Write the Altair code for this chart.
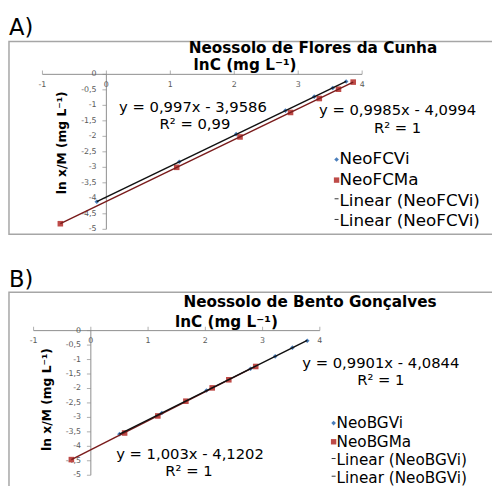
import altair as alt
import pandas as pd

# ---------------- data ----------------
# Panel A: Neossolo de Flores da Cunha
a_vi_x = [-0.15, 1.14, 2.03, 2.80, 3.25, 3.54, 3.75]
a_vi_y = [-4.11, -2.82, -1.93, -1.17, -0.72, -0.44, -0.23]
a_ma_x = [-0.72, 1.10, 2.09, 2.88, 3.33, 3.63, 3.86]
a_ma_y = [-4.82, -3.00, -2.02, -1.23, -0.78, -0.48, -0.25]

# Panel B: Neossolo de Bento Gonçalves
b_vi_x = [0.50, 1.24, 2.02, 2.79, 3.22, 3.52, 3.78]
b_vi_y = [-3.58, -2.85, -2.07, -1.32, -0.89, -0.59, -0.35]
b_ma_x = [-0.34, 0.59, 1.17, 1.66, 2.12, 2.41, 2.88]
b_ma_y = [-4.46, -3.54, -2.95, -2.44, -1.98, -1.70, -1.24]

x_ticks = [-1, 0, 1, 2, 3, 4]
x_tick_labels = ["-1", "0", "1", "2", "3", "4"]
y_ticks = [0, -0.5, -1, -1.5, -2, -2.5, -3, -3.5, -4, -4.5, -5]
y_tick_labels = ["0", "-0,5", "-1", "-1,5", "-2", "-2,5", "-3", "-3,5", "-4", "-4,5", "-5"]

x_domain = [-1, 4]
y_domain = [-5, 0]

BLUE = "#4a7ebb"
RED = "#be4b48"
FONT = "DejaVu Sans"
one = pd.DataFrame({"k": [0]})


def txt(s, x, y, size=15, bold=False, align="center", angle=0, color="black"):
    kw = dict(fontSize=size, font=FONT, align=align, baseline="middle", color=color)
    if bold:
        kw["fontWeight"] = "bold"
    if angle:
        kw["angle"] = angle
    return alt.Chart(one).mark_text(**kw).encode(
        x=alt.value(x), y=alt.value(y), text=alt.value(s))


def panel(vi_x, vi_y, ma_x, ma_y, xr, yr):
    xs = alt.Scale(domain=x_domain, range=xr, nice=False, zero=False)
    ys = alt.Scale(domain=y_domain, range=yr, nice=False, zero=False)

    def X(f):
        return alt.X(f, type="quantitative", scale=xs, axis=None)

    def Y(f):
        return alt.Y(f, type="quantitative", scale=ys, axis=None)

    vi = pd.DataFrame({"x": vi_x, "y": vi_y})
    ma = pd.DataFrame({"x": ma_x, "y": ma_y})
    xt = pd.DataFrame({"x": x_ticks, "lab": x_tick_labels, "y": 0})
    yt = pd.DataFrame({"y": y_ticks, "lab": y_tick_labels, "x": 0})
    axx = pd.DataFrame({"x0": [x_domain[0]], "x1": [x_domain[1]], "y0": [0]})
    axy = pd.DataFrame({"x0": [0], "y0": [y_domain[0]], "y1": [y_domain[1]]})

    layers = [
        alt.Chart(axx).mark_rule(color="#8c8c8c", strokeWidth=1).encode(
            x=X("x0"), x2=alt.X2("x1"), y=Y("y0")),
        alt.Chart(axy).mark_rule(color="#8c8c8c", strokeWidth=1).encode(
            x=X("x0"), y=Y("y0"), y2=alt.Y2("y1")),
        alt.Chart(xt).mark_tick(orient="vertical", size=4, thickness=1,
                                color="#8c8c8c", yOffset=-2).encode(x=X("x"), y=Y("y")),
        alt.Chart(yt).mark_tick(orient="horizontal", size=4, thickness=1,
                                color="#8c8c8c", xOffset=-2).encode(x=X("x"), y=Y("y")),
        alt.Chart(xt).mark_text(fontSize=8, font=FONT, color="#595959", dy=11,
                                baseline="middle").encode(x=X("x"), y=Y("y"), text="lab"),
        alt.Chart(yt).mark_text(fontSize=8, font=FONT, color="#595959", dx=-10,
                                align="right", baseline="middle").encode(
            x=X("x"), y=Y("y"), text="lab"),
        alt.Chart(vi).mark_point(shape="diamond", filled=True, size=22, color=BLUE,
                                 opacity=1).encode(x=X("x"), y=Y("y")),
        alt.Chart(ma).mark_point(shape="square", filled=True, size=32, color=RED,
                                 opacity=1).encode(x=X("x"), y=Y("y")),
        alt.Chart(ma).transform_regression("x", "y").mark_line(
            color="#7a1c1c", strokeWidth=1.5).encode(x=X("x"), y=Y("y")),
        alt.Chart(vi).transform_regression("x", "y").mark_line(
            color="#111111", strokeWidth=1.5).encode(x=X("x"), y=Y("y")),
    ]
    return layers


def legend(x0, rows, labels, size):
    out = [
        alt.Chart(one).mark_point(shape="diamond", filled=True, size=22, color=BLUE,
                                  opacity=1).encode(x=alt.value(x0), y=alt.value(rows[0])),
        alt.Chart(one).mark_point(shape="square", filled=True, size=30, color=RED,
                                  opacity=1).encode(x=alt.value(x0), y=alt.value(rows[1])),
        alt.Chart(one).mark_rule(color="#333333", strokeWidth=1).encode(
            x=alt.value(x0 - 2), x2=alt.value(x0 + 2), y=alt.value(rows[2] - 2)),
        alt.Chart(one).mark_rule(color="#333333", strokeWidth=1).encode(
            x=alt.value(x0 - 2), x2=alt.value(x0 + 2), y=alt.value(rows[3] - 2)),
    ]
    for lab, r in zip(labels, rows):
        out.append(txt(lab, x0 + 3, r, size=size, align="left"))
    return out


frameA = alt.Chart(one).mark_rect(fill="white", stroke="#a6a6a6", strokeWidth=1.5).encode(
    x=alt.value(1), x2=alt.value(530), y=alt.value(30), y2=alt.value(226))
frameB = alt.Chart(one).mark_rect(fill="white", stroke="#a6a6a6", strokeWidth=1.5).encode(
    x=alt.value(1), x2=alt.value(530), y=alt.value(285), y2=alt.value(540))

layers = [frameA, frameB]
layers += [txt("A)", 1, 17, size=23, align="left"), txt("B)", 1, 273, size=23, align="left")]

# Panel A
layers += panel(a_vi_x, a_vi_y, a_ma_x, a_ma_y, [35, 360], [221, 63.5])
layers += [
    txt("Neossolo de Flores da Cunha", 310, 37, size=15.5, bold=True),
    txt("lnC (mg L⁻¹)", 241, 54, size=15.5, bold=True),
    txt("ln x/M (mg L⁻¹)", 55, 133, size=12.5, bold=True, angle=270),
    txt("y = 0,997x - 3,9586", 188, 97),
    txt("R² = 0,99", 190, 114),
    txt("y = 0,9985x - 4,0994", 396, 100),
    txt("R² = 1", 396, 118),
]
layers += legend(334, [150, 171, 192, 213],
                 ["NeoFCVi", "NeoFCMa", "Linear (NeoFCVi)", "Linear (NeoFCVi)"], 17)

# Panel B
layers += panel(b_vi_x, b_vi_y, b_ma_x, b_ma_y, [26, 317], [471, 324])
layers += [
    txt("Neossolo de Bento Gonçalves", 307, 295, size=15.5, bold=True),
    txt("lnC (mg L⁻¹)", 222, 315, size=15.5, bold=True),
    txt("ln x/M (mg L⁻¹)", 40, 394, size=12.5, bold=True, angle=270),
    txt("y = 0,9901x - 4,0844", 379, 357),
    txt("R² = 1", 379, 374),
    txt("y = 1,003x - 4,1202", 185, 450),
    txt("R² = 1", 184, 467),
]
layers += legend(331, [418, 437, 456, 474],
                 ["NeoBGVi", "NeoBGMa", "Linear (NeoBGVi)", "Linear (NeoBGVi)"], 15.5)

chart = alt.layer(*layers).resolve_scale(
    x="independent", y="independent"
).properties(
    width=492, height=478, padding=0,
    autosize=alt.AutoSizeParams(type="none"),
    background="white",
).configure_view(strokeWidth=0)

chart.save("out.html", embed_options={"renderer": "svg", "actions": False})
